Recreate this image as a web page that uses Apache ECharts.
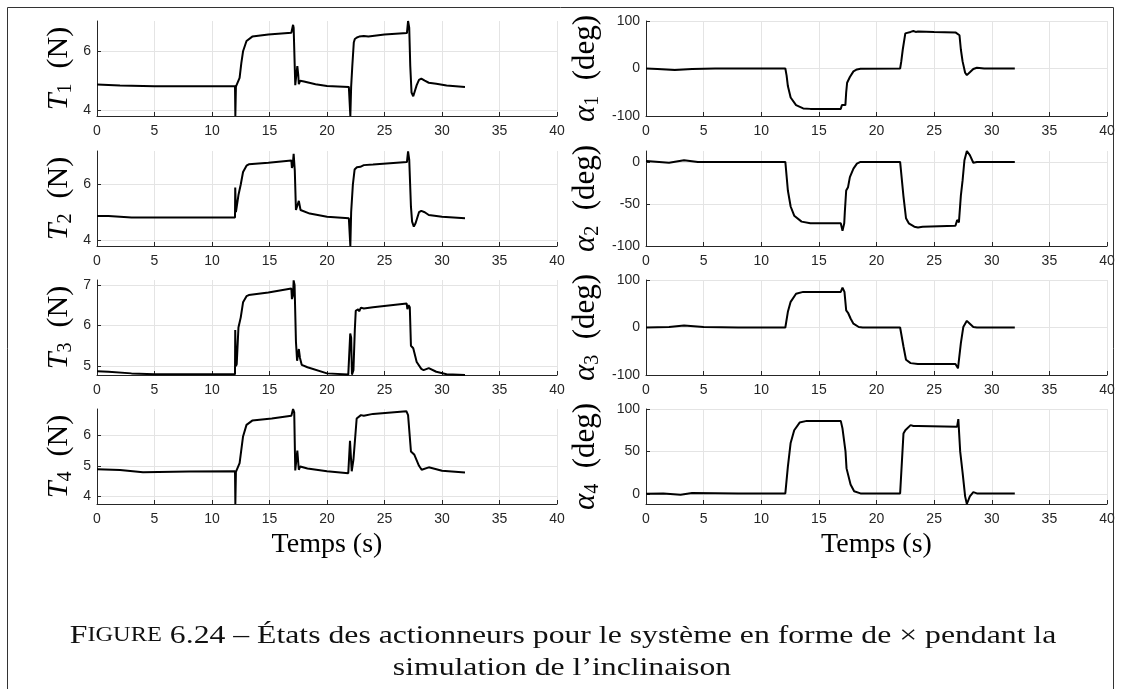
<!DOCTYPE html>
<html><head><meta charset="utf-8">
<script src="https://cdn.jsdelivr.net/npm/echarts@6/dist/echarts.min.js"></script>
<style>html,body{margin:0;padding:0;background:#fff}#c{width:1121px;height:689px}</style>
</head><body><div id="c"></div>
<script>
// ---- data: [time (s), value] ----
const t1Data = [[0,4.87],[2,4.84],[5,4.81],[12.0,4.81],[12.03,3.8],[12.08,4.8],[12.2,4.82],[12.4,5.1],[12.55,5.6],[12.7,6.0],[13.0,6.35],[13.5,6.5],[14.9,6.57],[16.9,6.63],[17.0,6.62],[17.05,6.9],[17.1,6.8],[17.24,4.85],[17.35,4.9],[17.42,5.5],[17.5,5.2],[17.55,4.88],[17.67,5.0],[17.8,4.95],[18.0,4.97],[19,4.88],[20.0,4.82],[21.9,4.79],[22.0,4.79],[22.03,3.8],[22.1,4.8],[22.2,5.5],[22.33,6.3],[22.42,6.42],[22.6,6.47],[22.8,6.5],[22.95,6.47],[23.2,6.52],[23.6,6.5],[25,6.57],[26.95,6.62],[27.0,6.62],[27.05,7.03],[27.15,6.8],[27.24,5.5],[27.35,4.6],[27.5,4.47],[27.6,4.5],[27.8,4.85],[28.0,5.03],[28.2,5.07],[28.5,5.0],[28.85,4.93],[29.5,4.9],[30.4,4.84],[32.0,4.79]];
const t2Data = [[0,4.86],[1,4.86],[3,4.81],[12.0,4.81],[12.02,5.89],[12.08,5.0],[12.15,5.02],[12.3,5.62],[12.5,6.0],[12.7,6.45],[13.0,6.68],[13.2,6.73],[14.9,6.79],[16.9,6.87],[16.95,6.6],[17.02,6.7],[17.1,7.11],[17.2,6.5],[17.3,5.08],[17.45,5.08],[17.55,5.41],[17.7,5.08],[17.8,5.03],[18.5,4.95],[20.0,4.84],[21.9,4.78],[22.0,4.78],[22.03,3.78],[22.1,5.0],[22.25,6.0],[22.4,6.54],[22.6,6.62],[22.75,6.66],[22.9,6.64],[23.2,6.7],[24,6.72],[26.95,6.81],[27.0,6.81],[27.05,7.2],[27.15,6.9],[27.3,5.2],[27.4,4.66],[27.55,4.48],[27.7,4.6],[28.0,5.0],[28.2,5.05],[28.5,5.0],[28.85,4.9],[30,4.84],[32.0,4.78]];
const t3Data = [[0,4.87],[1,4.86],[3,4.82],[5,4.80],[12.0,4.80],[12.02,5.89],[12.08,5.0],[12.15,5.05],[12.3,5.95],[12.5,6.2],[12.7,6.57],[13.0,6.72],[13.2,6.75],[14.9,6.81],[16.9,6.91],[16.95,6.65],[17.05,6.75],[17.1,7.11],[17.18,7.0],[17.3,5.6],[17.4,5.13],[17.55,5.42],[17.65,5.2],[17.8,5.03],[18.3,4.97],[20.0,4.82],[21.85,4.79],[22.0,4.79],[22.02,5.8],[22.1,5.7],[22.17,4.79],[22.3,4.9],[22.42,5.9],[22.5,6.36],[22.7,6.4],[22.8,6.35],[22.95,6.44],[23.2,6.42],[24,6.45],[26.93,6.54],[26.99,6.4],[27.1,6.5],[27.2,6.45],[27.3,5.5],[27.5,5.44],[27.8,5.1],[28.2,4.93],[28.4,4.9],[28.85,4.95],[29.5,4.86],[30.4,4.8],[32.0,4.78]];
const t4Data = [[0,4.89],[2,4.86],[4,4.79],[8,4.81],[12.0,4.82],[12.03,3.75],[12.08,4.8],[12.2,4.82],[12.4,5.09],[12.7,5.96],[13.0,6.34],[13.5,6.48],[15.2,6.55],[16.9,6.64],[17.0,6.62],[17.05,6.86],[17.15,6.75],[17.24,4.85],[17.35,4.9],[17.42,5.5],[17.55,4.87],[17.67,4.98],[17.8,4.95],[18.3,4.91],[20.0,4.82],[21.85,4.76],[21.97,4.77],[22.0,5.82],[22.08,5.8],[22.15,4.82],[22.3,5.2],[22.58,6.55],[22.7,6.6],[22.95,6.66],[23.2,6.64],[24,6.7],[26.9,6.79],[27.05,6.66],[27.15,6.66],[27.3,5.47],[27.6,5.36],[28.0,5.0],[28.23,4.87],[28.85,4.95],[30,4.84],[32.0,4.78]];
const a1Data = [[0,0],[1,-1],[2.5,-3],[4,-1],[6,0],[12.09,0],[12.2,-15],[12.31,-37],[12.55,-61],[13.02,-77],[13.64,-84],[14.26,-85],[16.9,-85],[17.0,-77],[17.3,-77],[17.37,-50],[17.45,-30],[17.55,-27],[17.69,-18],[18.0,-6],[18.3,-2],[18.61,-0.5],[22.05,0],[22.15,15],[22.28,40],[22.5,74],[22.96,77],[23.2,79],[23.4,77],[23.6,78],[25,77],[26.85,76],[27.0,72],[27.2,70],[27.32,40],[27.47,15],[27.69,-9],[27.84,-14],[28.1,-8],[28.4,-1],[28.71,1.5],[29.34,0],[32,0]];
const a2Data = [[0,1],[2,-1],[3.3,2],[4.5,0],[12.09,0],[12.31,-34],[12.55,-53],[12.86,-64],[13.5,-71],[14.26,-73],[16.9,-73],[17.05,-82],[17.2,-73],[17.25,-60],[17.37,-34],[17.53,-30],[17.69,-18],[18.0,-8],[18.3,-2],[18.61,0],[22.05,0],[22.34,-41],[22.56,-67],[22.8,-73],[23.28,-77],[23.6,-78],[24,-77],[26.85,-76],[27.0,-69],[27.15,-72],[27.32,-40],[27.47,-22],[27.63,2],[27.84,13],[28.1,8],[28.4,-1],[28.71,0],[32,0]];
const a3Data = [[0,0],[2,1],[3.3,4],[5,1],[8,0],[12.09,0],[12.31,33],[12.55,54],[13.02,71],[13.64,75],[16.9,75],[17.05,84],[17.22,75],[17.37,36],[17.53,31],[17.75,19],[18.0,8],[18.46,1],[18.8,0],[22.05,0],[22.34,-40],[22.56,-68],[22.96,-75],[23.59,-77],[26.85,-77],[27.07,-86],[27.32,-33],[27.53,1],[27.84,14],[28.1,8],[28.4,1],[28.71,0],[32,0]];
const a4Data = [[0,0],[1.5,0.5],[3,-1],[4,1],[8,0.5],[12.09,0.5],[12.31,32],[12.55,60],[12.86,75],[13.33,84],[13.95,86],[16.9,86],[17.05,77],[17.22,77],[17.31,50],[17.4,30],[17.53,28],[17.75,11],[18.06,3],[18.61,0.5],[22.05,0.5],[22.34,71],[22.5,75],[22.96,81],[23.2,80],[23.6,80],[26.99,79],[27.1,88],[27.26,50],[27.47,25],[27.69,-3],[27.84,-12],[28.1,-3],[28.4,2],[28.71,0.5],[32,0.5]];

// axis ranges and tick values
const xRange = [0, 40];
const xStep = 5;
const tRanges = [[3.8,7.03],[3.78,7.21],[4.78,7.12],[3.75,6.86]];
const tTicks = [[4,6],[4,6],[5,6,7],[4,5,6]];
const aRanges = [[-100,100],[-100,13],[-100,100],[-12,100]];
const aTicks = [[-100,0,100],[-100,-50,0],[-100,0,100],[0,50,100]];
const tSubs = ['1','2','3','4'];
const xLabel = 'Temps (s)';
const captionLine1 = ' 6.24 – États des actionneurs pour le système en forme de × pendant la';
const captionLine2 = 'simulation de l’inclinaison';

const tSeries = [t1Data, t2Data, t3Data, t4Data];
const aSeries = [a1Data, a2Data, a3Data, a4Data];

const rowTops = [21, 151, 280, 409];
const rowH = 95;
const axisCol = '#262626';
const gridCol = '#e4e4e4';
const serif = '"Liberation Serif", "DejaVu Serif", serif';
const sans = '"Liberation Sans", Arial, sans-serif';

const grids = [], xAxes = [], yAxes = [], series = [];
function nameRich(size){
  return {
    i: {fontFamily: serif, fontStyle: 'italic', fontSize: size, color: '#000', lineHeight: 34},
    r: {fontFamily: serif, fontSize: size, color: '#000', lineHeight: 34},
    s: {fontFamily: serif, fontSize: Math.round(size*0.66), color: '#000', lineHeight: 15, verticalAlign: 'bottom'}
  };
}
function addPanel(idx, left, width, top, range, ticks, data, name, gap, nameSize, lastRow){
  grids.push({left: left, top: top, width: width, height: rowH, containLabel: false});
  xAxes.push({
    type: 'value', gridIndex: idx, min: xRange[0], max: xRange[1], interval: xStep,
    axisLine: {show: true, onZero: false, lineStyle: {color: axisCol, width: 1}},
    axisTick: {show: true, inside: true, length: 4, lineStyle: {color: axisCol}},
    axisLabel: {color: axisCol, fontFamily: sans, fontSize: 14, margin: 8},
    splitLine: {show: true, lineStyle: {color: gridCol, width: 1}},
    name: lastRow ? xLabel : '', nameLocation: 'middle', nameGap: 27,
    nameTextStyle: {fontFamily: serif, fontSize: 28, color: '#000'}
  });
  yAxes.push({
    type: 'value', gridIndex: idx, min: range[0], max: range[1],
    axisLine: {show: true, lineStyle: {color: axisCol, width: 1}},
    axisTick: {show: true, inside: true, length: 4, customValues: ticks, lineStyle: {color: axisCol}},
    axisLabel: {color: axisCol, fontFamily: sans, fontSize: 14, margin: 6, customValues: ticks},
    splitLine: {show: true, lineStyle: {color: gridCol, width: 1}},
    name: name, nameLocation: 'middle', nameGap: gap, nameRotate: 90,
    nameTextStyle: {rich: nameRich(nameSize)}
  });
  series.push({
    type: 'line', xAxisIndex: idx, yAxisIndex: idx, data: data,
    showSymbol: false, symbol: 'none', animation: false, clip: true,
    lineStyle: {color: '#000', width: 2}
  });
}
for (let r = 0; r < 4; r++) {
  addPanel(r*2, 97, 460, rowTops[r], tRanges[r], tTicks[r], tSeries[r],
    '{i|T}{s|' + tSubs[r] + '}{r|  (N)}', 21, 30, r === 3);
  addPanel(r*2+1, 646, 461, rowTops[r], aRanges[r], aTicks[r], aSeries[r],
    '{i|α}{s|' + tSubs[r] + '}{r|  (deg)}', 43, 31, r === 3);
}

const chart = echarts.init(document.getElementById('c'), null, {renderer: 'canvas'});
chart.setOption({
  animation: false,
  grid: grids, xAxis: xAxes, yAxis: yAxes, series: series,
  graphic: [
    {type: 'rect', silent: true, shape: {x: 7.5, y: 7.5, width: 1106, height: 720},
     style: {fill: 'none', stroke: '#333', lineWidth: 1}},
    {type: 'text', x: 563, y: 636, scaleX: 1.22, silent: true,
     style: {text: '{a|F}{b|IGURE}{a|' + captionLine1 + '}', align: 'center', verticalAlign: 'middle',
       textAlign: 'center', textVerticalAlign: 'middle', rich: {
       a: {fontFamily: serif, fontSize: 26, fill: '#111'},
       b: {fontFamily: serif, fontSize: 20, fill: '#111'}}}},
    {type: 'text', x: 562, y: 668, scaleX: 1.22, silent: true,
     style: {text: captionLine2, fontFamily: serif, fontSize: 26, fill: '#111',
       align: 'center', verticalAlign: 'middle', textAlign: 'center', textVerticalAlign: 'middle'}}
  ]
});
</script></body></html>
